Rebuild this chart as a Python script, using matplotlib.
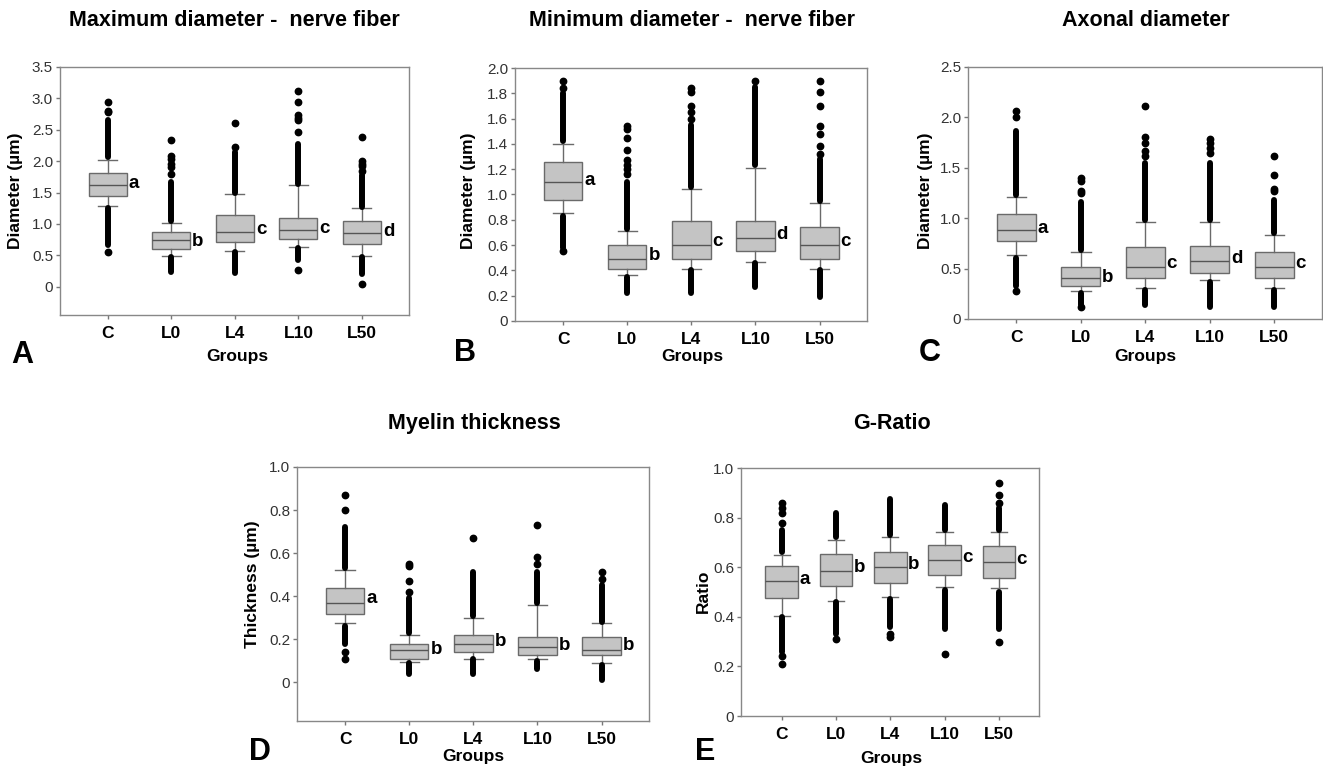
import matplotlib.pyplot as plt

W, H = 1323, 766
groups = ['C', 'L0', 'L4', 'L10', 'L50']

# ---- A: maximum diameter ----
a_whislo = [1.28, 0.49, 0.57, 0.63, 0.49]
a_q1 = [1.45, 0.60, 0.71, 0.76, 0.68]
a_med = [1.62, 0.74, 0.87, 0.90, 0.85]
a_q3 = [1.81, 0.87, 1.15, 1.09, 1.04]
a_whishi = [2.02, 1.02, 1.48, 1.62, 1.25]
a_runs = [[(2.07, 2.65), (0.66, 1.26)], [(1.04, 1.67), (0.24, 0.48)],
          [(1.50, 2.15), (0.22, 0.55)], [(1.64, 2.28), (0.42, 0.61)],
          [(1.27, 1.78), (0.21, 0.47)]]
a_singles = [[2.78, 2.80, 2.94, 0.55], [2.33, 2.09, 2.03, 1.96, 1.90, 1.80],
             [2.61, 2.23], [3.11, 2.94, 2.73, 2.68, 2.65, 2.47, 0.27],
             [2.39, 2.01, 1.96, 1.92, 1.85, 0.04]]
a_letters = ['a', 'b', 'c', 'c', 'd']
a_letter_y = [1.65, 0.72, 0.91, 0.93, 0.88]

# ---- B: minimum diameter ----
b_whislo = [0.85, 0.36, 0.41, 0.47, 0.41]
b_q1 = [0.96, 0.41, 0.49, 0.55, 0.49]
b_med = [1.10, 0.49, 0.60, 0.66, 0.60]
b_q3 = [1.26, 0.60, 0.79, 0.79, 0.74]
b_whishi = [1.40, 0.71, 1.04, 1.21, 0.93]
b_runs = [[(1.42, 1.80), (0.58, 0.83)], [(0.73, 1.10), (0.22, 0.35)],
          [(1.06, 1.55), (0.22, 0.40)], [(1.23, 1.85), (0.27, 0.46)],
          [(0.95, 1.28), (0.19, 0.40)]]
b_singles = [[1.84, 1.90, 0.55], [1.16, 1.20, 1.23, 1.27, 1.35, 1.45, 1.52, 1.54],
             [1.60, 1.65, 1.70, 1.81, 1.84], [1.90],
             [1.32, 1.38, 1.48, 1.54, 1.70, 1.81, 1.90]]
b_letters = ['a', 'b', 'c', 'd', 'c']
b_letter_y = [1.11, 0.52, 0.63, 0.68, 0.63]

# ---- C: axonal diameter ----
c_whislo = [0.63, 0.28, 0.31, 0.39, 0.31]
c_q1 = [0.77, 0.33, 0.41, 0.46, 0.41]
c_med = [0.88, 0.41, 0.52, 0.58, 0.52]
c_q3 = [1.04, 0.52, 0.71, 0.72, 0.66]
c_whishi = [1.21, 0.66, 0.96, 0.96, 0.83]
c_runs = [[(1.23, 1.87), (0.33, 0.61)], [(0.68, 1.16), (0.14, 0.26)],
          [(0.98, 1.55), (0.14, 0.29)], [(0.98, 1.55), (0.12, 0.37)],
          [(0.85, 1.18), (0.12, 0.29)]]
c_singles = [[2.00, 2.06, 0.28], [1.25, 1.27, 1.37, 1.40, 0.12],
             [1.62, 1.67, 1.75, 1.81, 2.11], [1.65, 1.70, 1.75, 1.79],
             [1.27, 1.29, 1.43, 1.62]]
c_letters = ['a', 'b', 'c', 'd', 'c']
c_letter_y = [0.90, 0.41, 0.55, 0.60, 0.55]

# ---- D: myelin thickness ----
d_whislo = [0.275, 0.095, 0.11, 0.11, 0.09]
d_q1 = [0.315, 0.11, 0.14, 0.125, 0.125]
d_med = [0.37, 0.15, 0.18, 0.165, 0.15]
d_q3 = [0.44, 0.18, 0.22, 0.21, 0.21]
d_whishi = [0.52, 0.22, 0.30, 0.36, 0.275]
d_runs = [[(0.53, 0.72), (0.18, 0.26)], [(0.23, 0.39), (0.04, 0.09)],
          [(0.31, 0.51), (0.04, 0.11)], [(0.37, 0.51), (0.06, 0.10)],
          [(0.28, 0.45), (0.01, 0.08)]]
d_singles = [[0.80, 0.87, 0.14, 0.11], [0.42, 0.47, 0.54, 0.55], [0.67],
             [0.55, 0.58, 0.73], [0.48, 0.51]]
d_letters = ['a', 'b', 'b', 'b', 'b']
d_letter_y = [0.39, 0.15, 0.19, 0.17, 0.17]

# ---- E: G-ratio ----
e_whislo = [0.405, 0.465, 0.48, 0.52, 0.515]
e_q1 = [0.475, 0.525, 0.535, 0.57, 0.555]
e_med = [0.545, 0.585, 0.60, 0.63, 0.62]
e_q3 = [0.605, 0.655, 0.66, 0.69, 0.685]
e_whishi = [0.65, 0.71, 0.72, 0.74, 0.74]
e_runs = [[(0.66, 0.75), (0.26, 0.40)], [(0.72, 0.82), (0.33, 0.46)],
          [(0.73, 0.875), (0.36, 0.47)], [(0.75, 0.85), (0.35, 0.51)],
          [(0.75, 0.84), (0.35, 0.50)]]
e_singles = [[0.78, 0.82, 0.84, 0.86, 0.24, 0.21], [0.31], [0.32, 0.33],
             [0.25], [0.86, 0.89, 0.94, 0.30]]
e_letters = ['a', 'b', 'b', 'c', 'c']
e_letter_y = [0.55, 0.60, 0.61, 0.64, 0.63]

num_font = ['Liberation Sans Narrow', 'Liberation Sans']
bold_font = ['Liberation Sans', 'DejaVu Sans']

fig = plt.figure(figsize=(W / 100, H / 100), dpi=100)


def fx(x):
    return x / W


def fy(y):
    return 1 - y / H


def panel(box, ylim, yticks, yticklabels, whislo, q1, med, q3, whishi,
          runs, singles, letters, letter_y):
    l, t, r, b = box
    ax = fig.add_axes([fx(l), fy(b), (r - l) / W, (b - t) / H])
    stats = []
    for i in range(len(groups)):
        stats.append(dict(med=med[i], q1=q1[i], q3=q3[i], whislo=whislo[i],
                          whishi=whishi[i], fliers=singles[i]))
    ax.bxp(stats, positions=range(1, 6), widths=0.6, capwidths=0.3,
           patch_artist=True,
           boxprops=dict(facecolor='#c4c4c4', edgecolor='#6a6a6a', linewidth=1),
           medianprops=dict(color='#555555', linewidth=1),
           whiskerprops=dict(color='#6a6a6a', linewidth=1),
           capprops=dict(color='#6a6a6a', linewidth=1),
           flierprops=dict(marker='o', markersize=4.6, markerfacecolor='black',
                           markeredgecolor='black'))
    # dense outlier columns drawn as continuous runs
    for i, rr in enumerate(runs):
        for lo, hi in rr:
            ax.vlines(i + 1, lo, hi, colors='black', linewidth=4.3,
                      capstyle='round', zorder=3)
    for i, s in enumerate(letters):
        ax.text(i + 1.33, letter_y[i], s, ha='left', va='center',
                fontsize=13.5, fontweight='bold', family=bold_font)
    ax.set_xlim(0.25, 5.74)
    ax.set_ylim(*ylim)
    ax.set_yticks(yticks)
    ax.set_yticklabels(yticklabels, family=num_font, fontsize=11, color='#333333')
    ax.set_xticks(range(1, 6))
    ax.set_xticklabels(groups, fontsize=12.5, fontweight='bold', family=bold_font)
    ax.tick_params(axis='both', length=3, color='#777777', width=1)
    ax.tick_params(axis='x', pad=5)
    ax.tick_params(axis='y', pad=2)
    for sp in ax.spines.values():
        sp.set_color('#888888')
        sp.set_linewidth(1)
    return ax


def label(x, y, s, size, rot=0):
    fig.text(fx(x), fy(y), s, ha='center', va='center', fontsize=size,
             fontweight='bold', family=bold_font, rotation=rot)


panel((60, 67, 409, 315), (-0.45, 3.5), [0, 0.5, 1, 1.5, 2, 2.5, 3, 3.5],
      ['0', '0.5', '1.0', '1.5', '2.0', '2.5', '3.0', '3.5'],
      a_whislo, a_q1, a_med, a_q3, a_whishi, a_runs, a_singles, a_letters, a_letter_y)
panel((515, 68, 867, 321), (0, 2.0), [0, 0.2, 0.4, 0.6, 0.8, 1.0, 1.2, 1.4, 1.6, 1.8, 2.0],
      ['0', '0.2', '0.4', '0.6', '0.8', '1.0', '1.2', '1.4', '1.6', '1.8', '2.0'],
      b_whislo, b_q1, b_med, b_q3, b_whishi, b_runs, b_singles, b_letters, b_letter_y)
panel((968, 67, 1322, 319), (0, 2.5), [0, 0.5, 1.0, 1.5, 2.0, 2.5],
      ['0', '0.5', '1.0', '1.5', '2.0', '2.5'],
      c_whislo, c_q1, c_med, c_q3, c_whishi, c_runs, c_singles, c_letters, c_letter_y)
panel((297, 467, 649, 721), (-0.18, 1.0), [0, 0.2, 0.4, 0.6, 0.8, 1.0],
      ['0', '0.2', '0.4', '0.6', '0.8', '1.0'],
      d_whislo, d_q1, d_med, d_q3, d_whishi, d_runs, d_singles, d_letters, d_letter_y)
panel((741, 468, 1039, 716), (0, 1.0), [0, 0.2, 0.4, 0.6, 0.8, 1.0],
      ['0', '0.2', '0.4', '0.6', '0.8', '1.0'],
      e_whislo, e_q1, e_med, e_q3, e_whishi, e_runs, e_singles, e_letters, e_letter_y)

# titles
label(234, 21, 'Maximum diameter -  nerve fiber', 15.5)
label(692, 21, 'Minimum diameter -  nerve fiber', 15.5)
label(1146, 21, 'Axonal diameter', 15.5)
label(474, 423, 'Myelin thickness', 15.5)
label(892, 423, 'G-Ratio', 15.5)

# axis labels
label(16, 191, 'Diameter (µm)', 12.5, 90)
label(469, 191, 'Diameter (µm)', 12.5, 90)
label(925, 191, 'Diameter (µm)', 12.5, 90)
label(252, 584, 'Thickness (µm)', 12.5, 90)
label(703, 591, 'Ratio', 12.5, 90)
label(237, 356, 'Groups', 12.5)
label(692, 356, 'Groups', 12.5)
label(1145, 357, 'Groups', 12.5)
label(473, 757, 'Groups', 12.5)
label(891, 758, 'Groups', 12.5)

# panel letters
label(22, 355, 'A', 22)
label(465, 353, 'B', 22)
label(930, 353, 'C', 22)
label(260, 752, 'D', 22)
label(705, 752, 'E', 22)

fig.savefig('out.png', dpi=100)
